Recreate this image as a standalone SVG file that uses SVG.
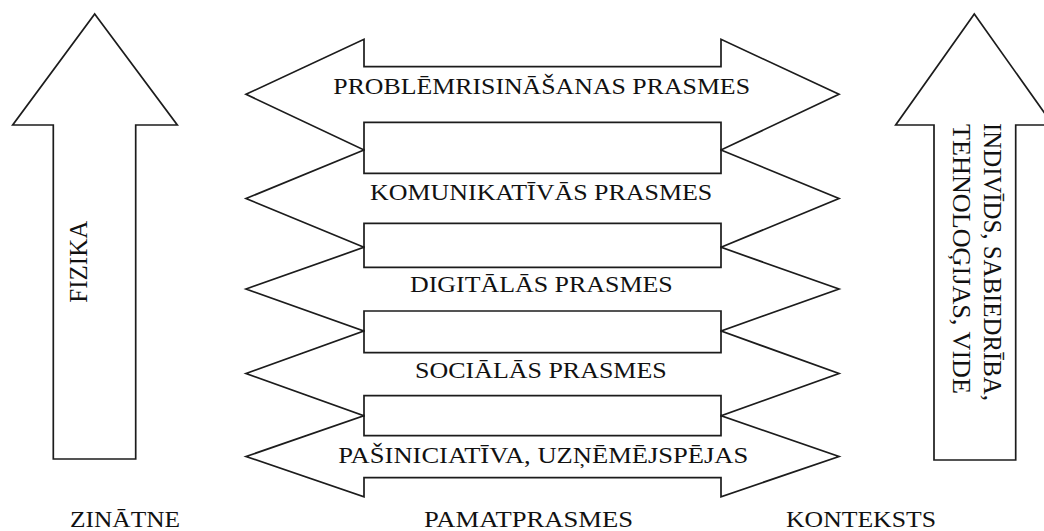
<svg xmlns="http://www.w3.org/2000/svg" width="1044" height="531" viewBox="0 0 1044 531">
  <style>
    .shape { fill: #ffffff; stroke: #1c1c1c; stroke-width: 1.7; stroke-linejoin: miter; }
    .lbl { font-family: "Liberation Serif", "Times New Roman", serif; font-size: 22.6px; fill: #111111; }
    .vlbl { font-family: "Liberation Serif", "Times New Roman", serif; font-size: 25px; fill: #111111; }
  </style>
  <rect x="0" y="0" width="1044" height="531" fill="#ffffff"/>

  <!-- Left upward arrow: science -->
  <g id="arrow-fizika">
    <polygon class="shape" points="94.7,14 177.3,125 135.7,125 135.7,459 53.3,459 53.3,125 12.7,125"/>
    <text class="vlbl" transform="translate(87.3,261.7) rotate(-90)" text-anchor="middle">FIZIKA</text>
  </g>

  <!-- Right upward arrow: context -->
  <g id="arrow-konteksts">
    <polygon class="shape" points="974.3,14 1053,125 1015.7,125 1015.7,460 934,460 934,125 895.7,125"/>
    <text class="vlbl" transform="translate(984,123) rotate(90)" textLength="278" lengthAdjust="spacingAndGlyphs">INDIVĪDS, SABIEDRĪBA,</text>
    <text class="vlbl" transform="translate(952.5,124) rotate(90)" textLength="270" lengthAdjust="spacingAndGlyphs">TEHNOLOĢIJAS, VIDE</text>
  </g>

  <!-- Stacked double-headed arrows: basic skills -->
  <g id="skill-1">
    <polygon class="shape" points="246,94.3 364,39.3 364,66.7 721,66.7 721,39.3 839,94.3 721,150 721,122.3 364,122.3 364,150"/>
    <text class="lbl" x="333.3" y="94.3" textLength="416.7" lengthAdjust="spacingAndGlyphs">PROBLĒMRISINĀŠANAS PRASMES</text>
  </g>
  <g id="skill-2">
    <polygon class="shape" points="246,198.5 364,150 364,173.3 721,173.3 721,150 839,198.5 721,247.3 721,223.3 364,223.3 364,247.3"/>
    <text class="lbl" x="370" y="200" textLength="342.3" lengthAdjust="spacingAndGlyphs">KOMUNIKATĪVĀS PRASMES</text>
  </g>
  <g id="skill-3">
    <polygon class="shape" points="246,289 364,247.3 364,267.3 721,267.3 721,247.3 839,289 721,331 721,311 364,311 364,331"/>
    <text class="lbl" x="410" y="292.3" textLength="262.7" lengthAdjust="spacingAndGlyphs">DIGITĀLĀS PRASMES</text>
  </g>
  <g id="skill-4">
    <polygon class="shape" points="246,373.5 364,331 364,352.7 721,352.7 721,331 839,373.5 721,415.7 721,395.7 364,395.7 364,415.7"/>
    <text class="lbl" x="415" y="378.3" textLength="251.7" lengthAdjust="spacingAndGlyphs">SOCIĀLĀS PRASMES</text>
  </g>
  <g id="skill-5">
    <polygon class="shape" points="246,456.5 364,415.7 364,435.7 721,435.7 721,415.7 839,456.5 721,496.7 721,477.7 364,477.7 364,496.7"/>
    <text class="lbl" x="338.3" y="463.3" textLength="410" lengthAdjust="spacingAndGlyphs">PAŠINICIATĪVA, UZŅĒMĒJSPĒJAS</text>
  </g>

  <!-- Column captions -->
  <g id="caption-zinatne">
    <text class="lbl" x="70" y="526.5" textLength="110" lengthAdjust="spacingAndGlyphs">ZINĀTNE</text>
  </g>
  <g id="caption-pamatprasmes">
    <text class="lbl" x="424" y="526.5" textLength="209" lengthAdjust="spacingAndGlyphs">PAMATPRASMES</text>
  </g>
  <g id="caption-konteksts">
    <text class="lbl" x="786" y="526.5" textLength="150" lengthAdjust="spacingAndGlyphs">KONTEKSTS</text>
  </g>

  <!-- No separate connectors: the arrows are the shapes themselves -->
  <g id="connectors"/>
</svg>
